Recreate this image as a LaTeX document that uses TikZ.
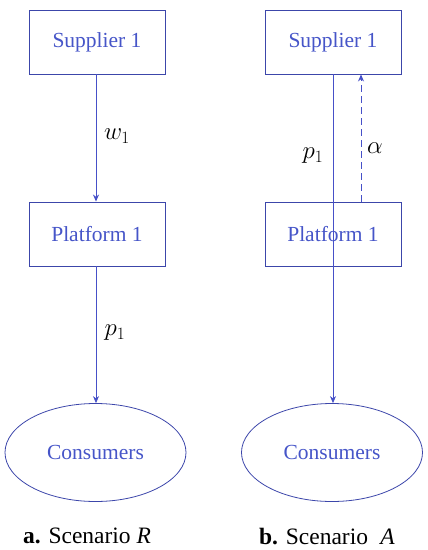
\documentclass[tikz,border=0pt]{standalone}
\usepackage{fontspec}
\setmainfont{Liberation Serif}
\usetikzlibrary{arrows.meta,shapes.geometric}
\definecolor{boxc}{RGB}{60,70,170}
\definecolor{txtc}{RGB}{70,85,200}
\definecolor{linec}{RGB}{70,80,200}
\begin{document}
\begin{tikzpicture}[x=1pt,y=-1pt,
  boxn/.style={draw=boxc,line width=0.9pt,minimum width=136pt,minimum height=64pt,inner sep=0pt,text=txtc,font=\fontsize{21.5}{24}\selectfont},
  elln/.style={draw=boxc,line width=0.8pt,ellipse,minimum width=181pt,minimum height=98pt,inner sep=0pt,text=txtc,font=\fontsize{21.5}{24}\selectfont},
  arr/.style={draw=linec,line width=0.8pt,-{Stealth[length=7pt,width=6pt]}},
  lab/.style={font=\fontsize{27}{30}\selectfont,inner sep=0pt},
  captxt/.style={font=\fontsize{23.5}{26}\selectfont,inner sep=0pt}]
\useasboundingbox (0,0) rectangle (428,550);
% left
\node[boxn] (s1) at (97,42) {Supplier 1};
\node[boxn] (p1) at (97,234) {Platform 1};
\node[elln] (c1) at (95.5,452.5) {Consumers};
\draw[arr] (s1.south -| 96,0) -- (p1.north -| 96,0);
\draw[arr] (p1.south -| 96,0) -- (c1.north -| 96,0);
\node[lab] (w) at (117,136) {$w_1$};
\node[lab] (pa) at (115,333) {$p_1$};
\node[captxt] (ca) at (87,536) {\textbf{a.} Scenario \textit{R}};
% right
\node[boxn] (s2) at (333,42) {Supplier 1};
\node[boxn] (p2) at (333,234) {Platform 1};
\node[elln] (c2) at (332,452.5) {Consumers};
\draw[arr] (s2.south -| 333,0) -- (c2.north -| 333,0);
\draw[arr,dash pattern=on 7pt off 4pt] (p2.north -| 361,0) -- (s2.south -| 361,0);
\node[lab] (pb) at (313,156) {$p_1$};
\node[lab] (al) at (375,148) {$\alpha$};
\node[captxt] (cb) at (327,537) {\textbf{b.} Scenario \;\textit{A}};
\end{tikzpicture}
\end{document}
